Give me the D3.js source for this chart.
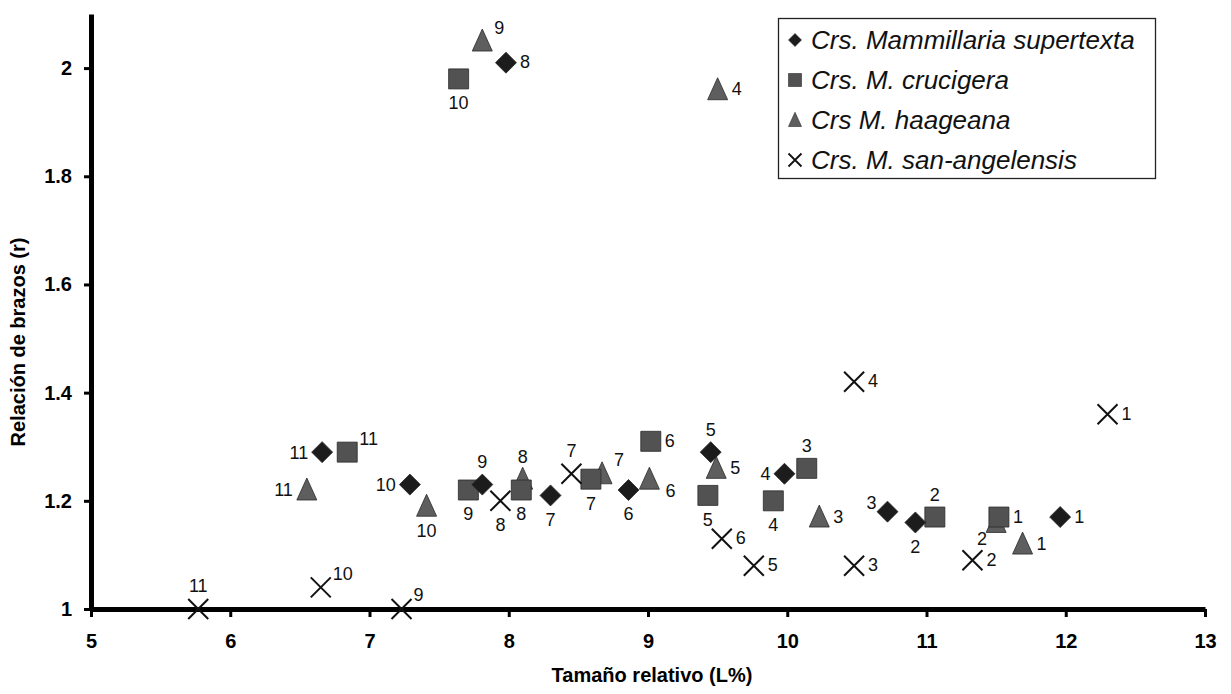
<!DOCTYPE html>
<html>
<head>
<meta charset="utf-8">
<script src="https://cdn.jsdelivr.net/npm/d3@7"></script>
<style>
	body { margin: 0; background: #fff; }
	svg { font-family: "Liberation Sans", Arial, sans-serif; }
	.axis path, .axis line { stroke: #000; }
	.axis text { font-size: 20px; font-weight: bold; fill: #000; }
	.axisTitle { font-size: 20px; font-weight: bold; }
	.ptLabel { font-size: 18px; fill: #111; }
	.legendText { font-size: 26px; font-style: italic; fill: #111; }
</style>
</head>
<body>
<div id="chart"></div>
<script>

// point number inside each series goes 1..11
var pointIds = [1, 2, 3, 4, 5, 6, 7, 8, 9, 10, 11];

var seriesNames = ["Crs. Mammillaria supertexta", "Crs. M. crucigera", "Crs M. haageana", "Crs. M. san-angelensis"];

// Tamaño relativo (L%)
var supertextaX = [11.96, 10.92, 10.72, 9.98, 9.45, 8.86, 8.30, 7.98, 7.81, 7.29, 6.66];
var crucigeraX  = [11.52, 11.06, 10.14, 9.90, 9.43, 9.02, 8.59, 8.09, 7.71, 7.64, 6.84];
var haageanaX   = [11.69, 11.50, 10.23, 9.50, 9.49, 9.01, 8.67, 8.10, 7.81, 7.41, 6.55];
var sanAngelX   = [12.30, 11.33, 10.48, 10.48, 9.76, 9.53, 8.45, 7.94, 7.23, 6.65, 5.77];

// Relación de brazos (r)
var supertextaY = [1.17, 1.16, 1.18, 1.25, 1.29, 1.22, 1.21, 2.01, 1.23, 1.23, 1.29];
var crucigeraY  = [1.17, 1.17, 1.26, 1.20, 1.21, 1.31, 1.24, 1.22, 1.22, 1.98, 1.29];
var haageanaY   = [1.12, 1.16, 1.17, 1.96, 1.26, 1.24, 1.25, 1.24, 2.05, 1.19, 1.22];
var sanAngelY   = [1.36, 1.09, 1.08, 1.42, 1.08, 1.13, 1.25, 1.20, 1.00, 1.04, 1.00];

var xTicks = [5, 6, 7, 8, 9, 10, 11, 12, 13];
var yTicks = [1, 1.2, 1.4, 1.6, 1.8, 2];

// where the number sits round each marker (r right, l left, t top, b bottom, tr top right, bl bottom left)
var supertextaLab = ["r", "b", "tl", "l", "t", "b", "b", "r", "t", "l", "l"];
var crucigeraLab  = ["r", "t", "t", "b", "b", "r", "b", "b", "b", "b", "tr"];
var haageanaLab   = ["r", "bl", "r", "r", "r", "br", "tr", "t", "tr", "b", "l"];
var sanAngelLab   = ["r", "r", "r", "r", "r", "r", "t", "b", "tr", "tr", "t"];


var width = 1231, height = 694;

var svg = d3.select("#chart").append("svg")
	.attr("width", width).attr("height", height);

var xScale = d3.scaleLinear().domain([5, 13]).range([91, 1205]);
var yScale = d3.scaleLinear().domain([1, 2.1]).range([609, 14]);

// marker shapes, drawn around 0,0
function markerPath(kind, s){
	if(kind == "diamond"){
		return "M0," + (-s) + "L" + s + ",0L0," + s + "L" + (-s) + ",0Z";
	} else if(kind == "square"){
		return "M" + (-s) + "," + (-s) + "H" + s + "V" + s + "H" + (-s) + "Z";
	} else if(kind == "triangle"){
		return "M0," + (-s*1.2) + "L" + s + "," + s + "L" + (-s) + "," + s + "Z";
	}
	return "M" + (-s) + "," + (-s) + "L" + s + "," + s + "M" + s + "," + (-s) + "L" + (-s) + "," + s;
}

var series = [
	{ name: seriesNames[2], xs: haageanaX,   ys: haageanaY,   labs: haageanaLab,   kind: "triangle", size: 10,   fill: "#5e5e5e" },
	{ name: seriesNames[1], xs: crucigeraX,  ys: crucigeraY,  labs: crucigeraLab,  kind: "square",   size: 10,   fill: "#525252" },
	{ name: seriesNames[0], xs: supertextaX, ys: supertextaY, labs: supertextaLab, kind: "diamond",  size: 10.5, fill: "#1c1c1c" },
	{ name: seriesNames[3], xs: sanAngelX,   ys: sanAngelY,   labs: sanAngelLab,   kind: "cross",    size: 10,   fill: "none" }
];

var labelOffset = {
	r:  [14, -1, "start"],
	l:  [-14, 0, "end"],
	t:  [0, -23, "middle"],
	b:  [0, 24, "middle"],
	tr: [12, -14, "start"],
	tl: [-11, -9, "end"],
	br: [16, 11, "start"],
	bl: [-9, 16, "end"]
};

// axes
var xAxis = d3.axisBottom(xScale)
	.tickValues(xTicks)
	.tickSize(8)
	.tickSizeOuter(0)
	.tickPadding(17)
	.tickFormat(d3.format("d"));

var yAxis = d3.axisLeft(yScale)
	.tickValues(yTicks)
	.tickSize(7)
	.tickSizeOuter(0)
	.tickPadding(12)
	.tickFormat(function(d){ return +d.toFixed(1); });

var gX = svg.append("g")
	.attr("class", "x axis")
	.attr("transform", "translate(0," + yScale(1) + ")")
	.call(xAxis);

var gY = svg.append("g")
	.attr("class", "y axis")
	.attr("transform", "translate(" + xScale(5) + ",0)")
	.call(yAxis);

gX.select(".domain").attr("stroke-width", 5);
gY.select(".domain").attr("stroke-width", 5);
svg.selectAll(".axis .tick line").attr("stroke-width", 3);

svg.append("text")
	.attr("class", "axisTitle")
	.attr("x", 652).attr("y", 682)
	.attr("text-anchor", "middle")
	.text("Tamaño relativo (L%)");

svg.append("text")
	.attr("class", "axisTitle")
	.attr("transform", "translate(25," + 342 + ") rotate(-90)")
	.attr("text-anchor", "middle")
	.text("Relación de brazos (r)");

// the points and their numbers
series.forEach(function(s){

	var pts = pointIds.map(function(id, i){
		return { id: id, x: s.xs[i], y: s.ys[i], lab: s.labs[i] };
	});

	var g = svg.append("g").attr("class", "series " + s.kind);

	g.selectAll("path").data(pts).enter().append("path")
		.attr("transform", function(d){ return "translate(" + xScale(d.x) + "," + yScale(d.y) + ")"; })
		.attr("d", markerPath(s.kind, s.size))
		.attr("fill", s.fill)
		.attr("stroke", s.kind == "cross" ? "#111" : "#2a2a2a")
		.attr("stroke-width", s.kind == "cross" ? 2 : 0.8);

	g.selectAll("text").data(pts).enter().append("text")
		.attr("class", "ptLabel")
		.attr("x", function(d){ return xScale(d.x) + labelOffset[d.lab][0]; })
		.attr("y", function(d){ return yScale(d.y) + labelOffset[d.lab][1]; })
		.attr("dy", "0.36em")
		.attr("text-anchor", function(d){ return labelOffset[d.lab][2]; })
		.text(function(d){ return d.id; });
});

// legend box, top right
var legend = svg.append("g").attr("class", "legend");

legend.append("rect")
	.attr("x", 778.5).attr("y", 18.5)
	.attr("width", 377).attr("height", 160)
	.attr("fill", "#fff")
	.attr("stroke", "#222")
	.attr("stroke-width", 1.3);

var legendOrder = [2, 1, 0, 3]; // index into series, in the order the legend lists them

legendOrder.forEach(function(si, row){
	var s = series[si];
	var cy = 40 + row * 40;
	legend.append("path")
		.attr("transform", "translate(795," + cy + ")")
		.attr("d", markerPath(s.kind, 6.5))
		.attr("fill", s.fill)
		.attr("stroke", s.kind == "cross" ? "#111" : "#2a2a2a")
		.attr("stroke-width", s.kind == "cross" ? 1.8 : 0.6);
	legend.append("text")
		.attr("class", "legendText")
		.attr("x", 811).attr("y", cy)
		.attr("dy", "0.36em")
		.text(s.name);
});

</script>
</body>
</html>
